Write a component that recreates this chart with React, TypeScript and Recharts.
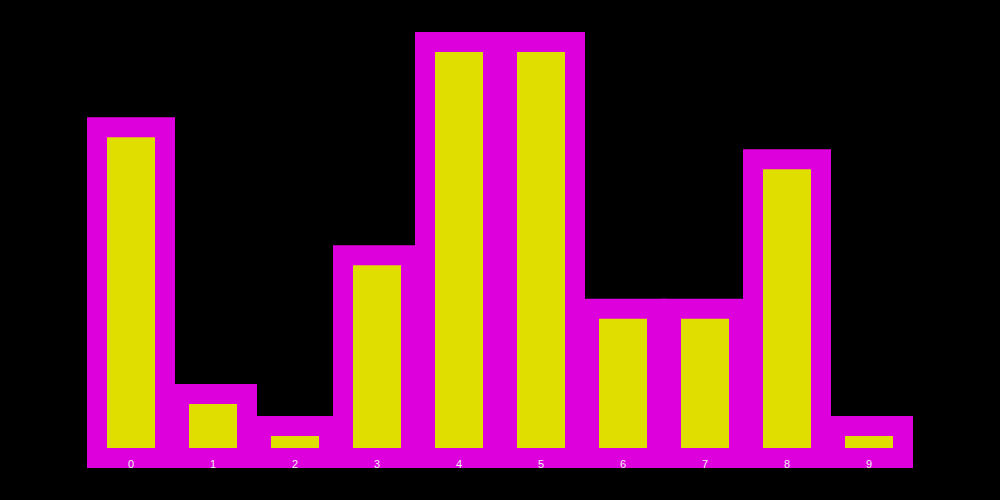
import { BarChart, Bar, XAxis, YAxis } from "recharts";

const categories = ["0", "1", "2", "3", "4", "5", "6", "7", "8", "9"];
const values = [31, 6, 3, 19, 39, 39, 14, 14, 28, 3];

const data = categories.map((name, i) => ({ name, value: values[i] }));

export default function App() {
  return (
    <div style={{ position: "fixed", top: 0, left: 0, width: 1000, height: 500, background: "#000" }}>
      <BarChart
        width={1000}
        height={500}
        data={data}
        margin={{ top: 42, right: 90, bottom: 12, left: 90 }}
        barSize={68}
      >
        <YAxis hide domain={[0, "dataMax"]} />
        <Bar
          dataKey="value"
          fill="#e0dd00"
          stroke="#dd00dd"
          strokeWidth={20}
          isAnimationActive={false}
        />
        <XAxis
          dataKey="name"
          height={30}
          axisLine={false}
          tickLine={false}
          tickSize={0}
          tick={{ fill: "#f0f0f0", fontSize: 11, fontFamily: "Liberation Sans" }}
        />
      </BarChart>
    </div>
  );
}
